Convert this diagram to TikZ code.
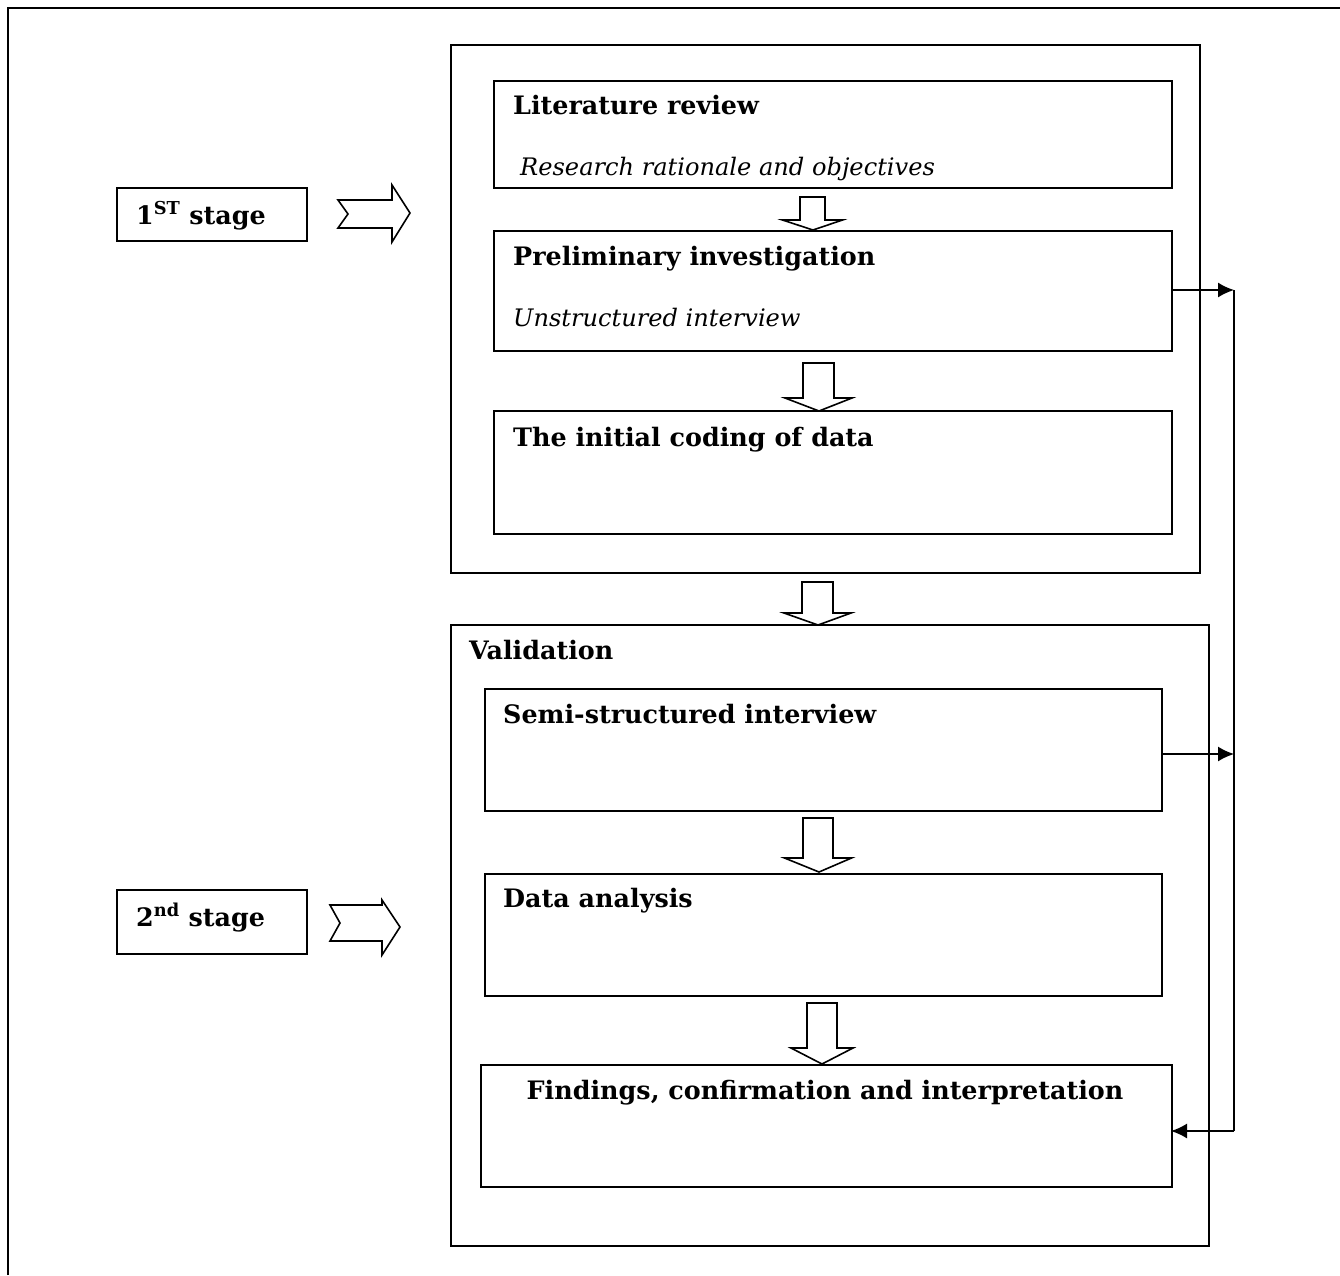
\documentclass[tikz,border=0pt]{standalone}
\usepackage{fontspec}
\setmainfont{DejaVu Serif}
\usetikzlibrary{arrows.meta}
\newcommand\dnarrow[7]{% cx, shaft half, top, headbase, head half, tipx, tipy
  \draw[blk] (#1-#2,#3) -- (#1+#2,#3) -- (#1+#2,#4) -- (#1+#5,#4) -- (#6,#7) -- (#1-#5,#4) -- (#1-#2,#4) -- cycle;}
\begin{document}
\begin{tikzpicture}[x=1pt,y=-1pt,
  box/.style={draw, line width=1.8pt, inner sep=0pt, anchor=north west},
  ttl/.style={anchor=base west, font=\fontsize{25.4}{30}\selectfont\bfseries, inner sep=0pt},
  sub/.style={anchor=base west, font=\fontsize{24.1}{29}\selectfont\itshape, inner sep=0pt},
  blk/.style={draw, line width=1.6pt, fill=white, line join=miter},
  conn/.style={line width=1.5pt, -{Latex[length=16pt,width=15pt]}},
  plain/.style={line width=1.5pt}]
\useasboundingbox (0,0) rectangle (1340,1275);
% outer frame (top and left only visible)
\draw[line width=2.4pt] (8,1275) -- (8,8) -- (1340,8);

% stage labels
\node[box, minimum width=190pt, minimum height=53pt] (s1) at (116,187) {};
\node[ttl] (s1t) at (136,224) {1\textsuperscript{ST} stage};
\node[box, minimum width=190pt, minimum height=64pt] (s2) at (116,889) {};
\node[ttl] (s2t) at (136,926) {2\textsuperscript{nd} stage};

% block arrows right
\draw[blk] (338,200) -- (392,200) -- (392,185) -- (410,213) -- (392,242) -- (392,228) -- (338,228) -- (348,214) -- cycle;
\draw[blk] (330,905) -- (382,905) -- (382,900) -- (400,927) -- (382,955) -- (382,941) -- (330,941) -- (340,923) -- cycle;

% stage 1 frame
\node[box, minimum width=749pt, minimum height=528pt] (f1) at (450,44) {};
\node[box, minimum width=678pt, minimum height=107pt] (lit) at (493,80) {};
\node[ttl] (litt) at (513,114) {Literature review};
\node[sub] (lits) at (520,175) {Research rationale and objectives};
\node[box, minimum width=678pt, minimum height=120pt] (pre) at (493,230) {};
\node[ttl] (pret) at (513,265) {Preliminary investigation};
\node[sub] (pres) at (513,326) {Unstructured interview};
\node[box, minimum width=678pt, minimum height=123pt] (cod) at (493,410) {};
\node[ttl] (codt) at (513,446) {The initial coding of data};

% stage 2 frame
\node[box, minimum width=758pt, minimum height=621pt] (f2) at (450,624) {};
\node[ttl] (valt) at (469,659) {Validation};
\node[box, minimum width=677pt, minimum height=122pt] (semi) at (484,688) {};
\node[ttl] (semit) at (503,723) {Semi-structured interview};
\node[box, minimum width=677pt, minimum height=122pt] (data) at (484,873) {};
\node[ttl] (datat) at (503,907) {Data analysis};
\node[box, minimum width=691pt, minimum height=122pt] (find) at (480,1064) {};
\node[ttl, anchor=base] (findt) at (825,1099) {Findings, confirmation and interpretation};

% down block arrows
\dnarrow{812.5}{12.5}{197}{220}{30}{813}{230}
\dnarrow{818.5}{15.5}{363}{398}{33.5}{819}{411}
\dnarrow{817.5}{15.5}{582}{613}{33.5}{818}{625}
\dnarrow{818}{15}{818}{858}{33.5}{819}{872}
\dnarrow{822}{15}{1003}{1048}{31}{822}{1064}

% feedback connectors
\coordinate (r1) at (1234,290);
\coordinate (r2) at (1234,754);
\coordinate (r3) at (1234,1131);
\coordinate (f3) at (1171,1131);
\draw[conn] (pre.east |- r1) -- (r1);
\draw[conn] (semi.east |- r2) -- (r2);
\draw[plain] (r1) -- (r3);
\draw[conn] (r3) -- (f3);
\end{tikzpicture}
\end{document}
